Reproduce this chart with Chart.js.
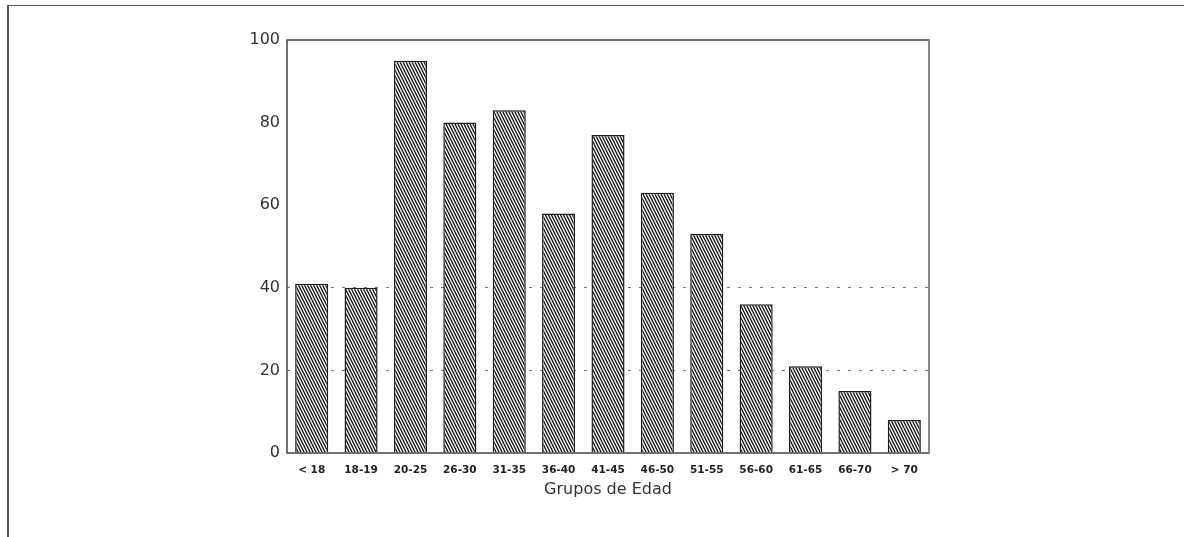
<!DOCTYPE html>
<html>
<head>
<meta charset="utf-8">
<script src="https://cdn.jsdelivr.net/npm/chart.js@4"></script>
<style>
  html, body { margin: 0; padding: 0; background: #fff; }
  #wrap { position: relative; width: 1184px; height: 537px; overflow: hidden; }
  #frame { position: absolute; left: 7px; top: 5px; right: -10px; bottom: -10px;
           border-top: 1.5px solid #555; border-left: 2px solid #555; }
  canvas { position: absolute; left: 0; top: 0; }
</style>
</head>
<body>
<div id="wrap">
  <div id="frame"></div>
  <canvas id="c" width="1184" height="537"></canvas>
</div>
<script>
const categories = ['< 18', '18-19', '20-25', '26-30', '31-35', '36-40', '41-45', '46-50', '51-55', '56-60', '61-65', '66-70', '> 70'];
const counts = [41, 40, 95, 80, 83, 58, 77, 63, 53, 36, 21, 15, 8];
const yTicks = [0, 20, 40, 60, 80, 100];
const xTitle = 'Grupos de Edad';

function hatch() {
  const t = document.createElement('canvas');
  t.width = 3; t.height = 6;
  const g = t.getContext('2d');
  g.fillStyle = '#fff';
  g.fillRect(0, 0, 3, 6);
  g.strokeStyle = '#1a1a1a';
  g.lineWidth = 1.4;
  g.beginPath();
  g.moveTo(-3, -6); g.lineTo(6, 12);
  g.moveTo(-6, -6); g.lineTo(3, 12);
  g.moveTo(0, -6); g.lineTo(9, 12);
  g.stroke();
  return g.createPattern(t, 'repeat');
}

const frameBox = {
  id: 'frameBox',
  afterDatasetsDraw(chart) {
    const a = chart.chartArea, ctx = chart.ctx;
    ctx.save();
    ctx.strokeStyle = '#444';
    ctx.lineWidth = 1.5;
    ctx.strokeRect(a.left, a.top, a.right - a.left, a.bottom - a.top);
    ctx.strokeStyle = '#888';
    ctx.lineWidth = 2;
    ctx.beginPath(); ctx.moveTo(a.right, a.top); ctx.lineTo(a.right, a.bottom); ctx.stroke();
    ctx.restore();
  }
};

new Chart(document.getElementById('c'), {
  type: 'bar',
  data: {
    labels: categories,
    datasets: [{
      data: counts,
      backgroundColor: hatch(),
      borderColor: '#1e1e1e',
      borderWidth: { top: 1.5, left: 1.5, right: 1.5, bottom: 0 },
      categoryPercentage: 1,
      barPercentage: 0.67
    }]
  },
  options: {
    responsive: false,
    animation: false,
    devicePixelRatio: 1,
    layout: { padding: { left: 227, right: 255, top: 40, bottom: 38 } },
    plugins: { legend: { display: false }, tooltip: { enabled: false } },
    scales: {
      x: {
        grid: { display: false, drawTicks: false },
        border: { display: false },
        ticks: {
          padding: 11,
          maxRotation: 0,
          autoSkip: false,
          color: '#222',
          font: { family: 'DejaVu Sans', size: 10.5, weight: 'bold' }
        },
        title: {
          display: true,
          text: xTitle,
          color: '#333',
          padding: { top: 0, bottom: 0 },
          font: { family: 'DejaVu Sans', size: 16 }
        },
        afterFit(s) { s.height = 46; }
      },
      y: {
        min: 0, max: 100,
        afterBuildTicks(s) { s.ticks = yTicks.map(v => ({ value: v })); },
        grid: {
          drawTicks: false,
          color: ctx => (ctx.tick && (ctx.tick.value === 20 || ctx.tick.value === 40)) ? 'rgba(60,60,60,0.7)' : 'rgba(0,0,0,0)',
          lineWidth: 1
        },
        border: { display: false, dash: [3, 8] },
        ticks: {
          padding: 7,
          color: '#333',
          font: { family: 'DejaVu Sans', size: 16 }
        },
        afterFit(s) { s.width = 60; }
      }
    }
  },
  plugins: [frameBox]
});
</script>
</body>
</html>
